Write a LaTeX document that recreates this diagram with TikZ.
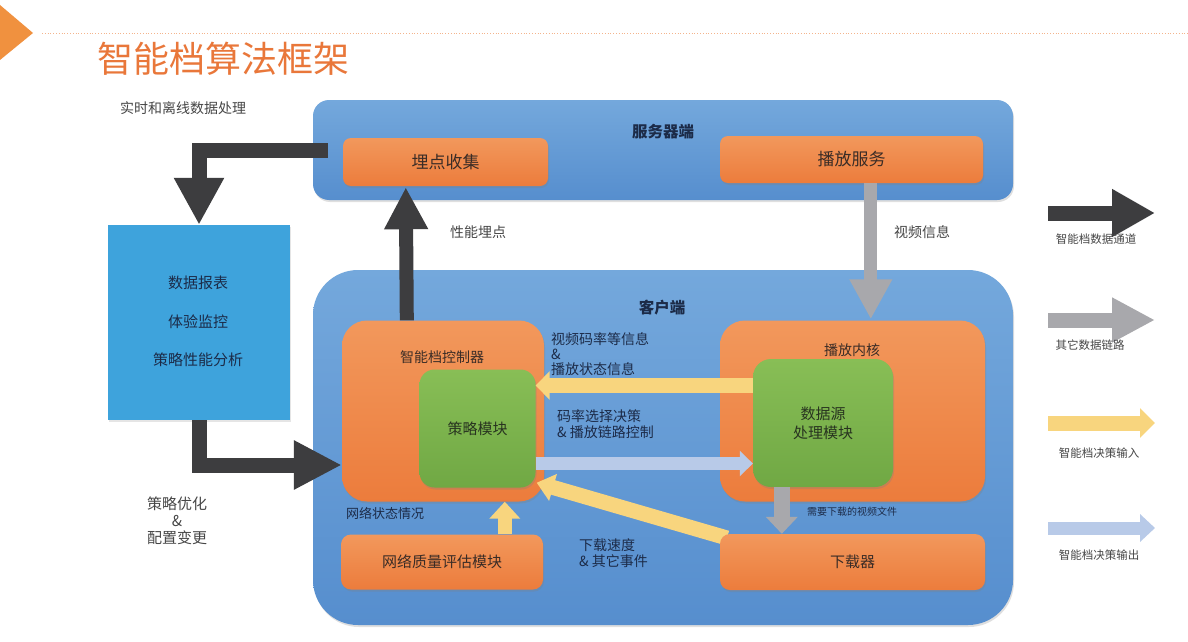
\documentclass[tikz,border=0pt]{standalone}
\usepackage{fontspec}
\setmainfont{Noto Sans CJK SC}
\usetikzlibrary{arrows.meta,shadows,calc}
\definecolor{cblueT}{RGB}{116,168,220}
\definecolor{cblueB}{RGB}{86,142,206}
\definecolor{corT}{RGB}{242,152,92}
\definecolor{corB}{RGB}{236,124,60}
\definecolor{cgrT}{RGB}{136,190,86}
\definecolor{cgrB}{RGB}{112,168,68}
\definecolor{creport}{RGB}{62,163,220}
\definecolor{cdark}{RGB}{61,61,63}
\definecolor{cgray}{RGB}{168,168,172}
\definecolor{cyel}{RGB}{248,213,126}
\definecolor{clb}{RGB}{184,202,232}
\definecolor{cnavy}{RGB}{28,43,72}
\definecolor{corText}{RGB}{58,44,38}
\definecolor{cgrText}{RGB}{40,52,32}
\definecolor{ctitle}{RGB}{233,119,58}
\definecolor{ctri}{RGB}{240,145,63}
\definecolor{cdots}{RGB}{244,180,140}
\definecolor{cgtext}{RGB}{70,70,70}
\newcommand\setfs[1]{\fontsize{#1}{#1}\selectfont}
\tikzset{
  cont/.style={draw=none, top color=cblueT, bottom color=cblueB, inner sep=0pt,
    drop shadow={opacity=0.25, shadow xshift=1pt, shadow yshift=-2pt}},
  obox/.style={draw=none, top color=corT, bottom color=corB, inner sep=0pt,
    text=corText, font=\setfs{17pt},
    drop shadow={opacity=0.3, shadow xshift=1pt, shadow yshift=-2pt}},
  gbox/.style={draw=none, top color=cgrT, bottom color=cgrB, inner sep=0pt,
    text=cgrText, font=\setfs{15pt}, align=center,
    drop shadow={opacity=0.3, shadow xshift=1pt, shadow yshift=-2pt}},
  navylbl/.style={text=cnavy, inner sep=0pt},
  darkarr/.style={draw=cdark, line width=15pt},
  grayarr/.style={draw=cgray, line width=13pt},
  yelarr/.style={draw=cyel, line width=15pt},
  lbarr/.style={draw=clb, line width=13pt},
  leglbl/.style={text=cgtext, font=\setfs{11.5pt}, inner sep=0pt},
}
\begin{document}
\begin{tikzpicture}[x=1pt,y=-1pt]
\useasboundingbox (0,0) rectangle (1188,642);
\fill[white] (0,0) rectangle (1188,642);
% header
\fill[ctri] (0,5) -- (33,33) -- (0,60) -- cycle;
\draw[cdots, dotted, line width=0.8pt] (42,33) -- (1188,33);
\node[text=ctitle, font=\setfs{36pt}, inner sep=0pt] (title) at (223,59) {智能档算法框架};
\node[text=cgtext, font=\setfs{14pt}, inner sep=0pt] (rtlbl) at (183,108) {实时和离线数据处理};

% containers
\node[cont, rounded corners=16pt, minimum width=700pt, minimum height=100pt] (server) at (663,150) {};
\node[cont, rounded corners=45pt, minimum width=700pt, minimum height=355pt] (client) at (663,447.5) {};
\node[navylbl, font=\bfseries\setfs{15.5pt}] (servert) at (663,132) {服务器端};
\node[navylbl, font=\bfseries\setfs{15.5pt}] (clientt) at (662,308) {客户端};

% report box
\node[fill=creport, minimum width=182pt, minimum height=195pt, inner sep=0pt,
  drop shadow={opacity=0.2, shadow xshift=1pt, shadow yshift=-2pt}] (report) at (199,322.5) {};
\node[navylbl, font=\setfs{15pt}] (r1) at (198,283) {数据报表};
\node[navylbl, font=\setfs{15pt}] (r2) at (198,322) {体验监控};
\node[navylbl, font=\setfs{15pt}] (r3) at (198,360) {策略性能分析};
\node[text=cgtext, font=\setfs{15pt}, align=center, inner sep=0pt] (optlbl) at (177,521)
  {策略优化\\[2pt]\&\\[2pt]配置变更};

% orange boxes
\node[obox, rounded corners=8pt, minimum width=205pt, minimum height=48pt] (collect) at (445.5,162) {埋点收集};
\node[obox, rounded corners=8pt, minimum width=263pt, minimum height=47pt] (playsvc) at (851.5,159.5) {播放服务};
\node[obox, rounded corners=25pt, minimum width=202pt, minimum height=181pt] (ctrl) at (443,411) {};
\node[obox, rounded corners=25pt, minimum width=265pt, minimum height=181pt] (kernel) at (852.5,411) {};
\node[text=corText, font=\setfs{14pt}, inner sep=0pt] (ctrlt) at (442,357) {智能档控制器};
\node[text=corText, font=\setfs{14pt}, inner sep=0pt] (kernelt) at (852,350) {播放内核};
\node[obox, rounded corners=10pt, minimum width=202pt, minimum height=55pt, font=\setfs{15pt}] (netq) at (442,562) {网络质量评估模块};

% green boxes
\node[gbox, rounded corners=15pt, minimum width=116pt, minimum height=118pt] (policy) at (477.5,428.5) {策略模块};
\node[gbox, rounded corners=18pt, minimum width=140pt, minimum height=128pt] (datasrc) at (823,423) {数据源\\[4pt]处理模块};

% yellow diagonal, partly under the downloader
\coordinate (dgs) at (727,538);
\draw[yelarr, -{Triangle[width=27pt,length=17pt]}] (dgs) -- ($(policy.south east)+(1,-5)$);
\node[obox, rounded corners=10pt, minimum width=265pt, minimum height=56pt, font=\setfs{15pt}] (dl) at (852.5,562) {下载器};

% dark arrows
\draw[darkarr, -{Triangle[width=47pt,length=47pt]}] ($(server.west)+(15,0)$) -| (report.north);
\draw[darkarr, line width=14pt, -{Triangle[width=41pt,length=42pt]}] ($(ctrl.north west)+(65,0)$) -- ($(collect.south west)+(63,1)$);
\draw[darkarr, -{Triangle[width=46pt,length=48pt]}] (report.south) |- ($(ctrl.west)+(0,54)$);

% gray arrows
\draw[grayarr, -{Triangle[width=40pt,length=40pt]}] ($(playsvc.south west)+(151,0)$) -- ($(kernel.north west)+(151,-1)$);
\coordinate (g2s) at ($(datasrc.south west)+(29,0)$);
\draw[grayarr, line width=16pt, -{Triangle[width=31pt,length=17pt]}] (g2s) -- (g2s |- dl.north);

% yellow arrows
\coordinate (y1s) at ($(datasrc.west)+(0,-37.5)$);
\draw[yelarr, -{Triangle[width=28pt,length=14pt]}] (y1s) -- (y1s -| policy.east);
\coordinate (y3s) at ($(netq.north west)+(164,0)$);
\draw[yelarr, line width=14pt, -{Triangle[width=30pt,length=17pt]}] (y3s) -- (y3s |- ctrl.south);

% light blue arrow
\coordinate (b1s) at ($(policy.east)+(0,35)$);
\draw[lbarr, -{Triangle[width=25pt,length=13pt]}] (b1s) -- (b1s -| datasrc.west);

% labels
\node[text=cgtext, font=\setfs{14pt}, inner sep=0pt] (l1) at (478,232) {性能埋点};
\node[text=cgtext, font=\setfs{14pt}, inner sep=0pt] (l2) at (922,232) {视频信息};
\node[navylbl, font=\setfs{14pt}, align=left, anchor=west] (l3) at (551,354) {视频码率等信息\\[1pt]\&\\[1pt]播放状态信息};
\node[navylbl, font=\setfs{14pt}, align=left, anchor=west] (l4) at (557,424) {码率选择决策\\[2pt]\& 播放链路控制};
\node[navylbl, font=\setfs{13pt}] (l5) at (385,513) {网络状态情况};
\node[navylbl, font=\setfs{10pt}] (l6) at (852,512) {需要下载的视频文件};
\node[navylbl, font=\setfs{14pt}, align=left, anchor=west] (l7) at (579,553) {下载速度\\[2pt]\& 其它事件};

% legend
\coordinate (k1s) at (1048,213); \coordinate (k1e) at (1155,213);
\draw[darkarr, -{Triangle[width=45pt,length=43pt]}] (k1s) -- (k1e);
\node[leglbl] (k1l) at (1096,239) {智能档数据通道};
\coordinate (k2s) at (1048,320); \coordinate (k2e) at (1155,320);
\draw[grayarr, line width=15pt, -{Triangle[width=42pt,length=43pt]}] (k2s) -- (k2e);
\node[leglbl] (k2l) at (1090,345) {其它数据链路};
\coordinate (k3s) at (1048,423); \coordinate (k3e) at (1155,423);
\draw[yelarr, -{Triangle[width=29pt,length=15pt]}] (k3s) -- (k3e);
\node[leglbl] (k3l) at (1099,453) {智能档决策输入};
\coordinate (k4s) at (1048,528); \coordinate (k4e) at (1155,528);
\draw[lbarr, -{Triangle[width=27pt,length=15pt]}] (k4s) -- (k4e);
\node[leglbl] (k4l) at (1099,555) {智能档决策输出};
\end{tikzpicture}
\end{document}
